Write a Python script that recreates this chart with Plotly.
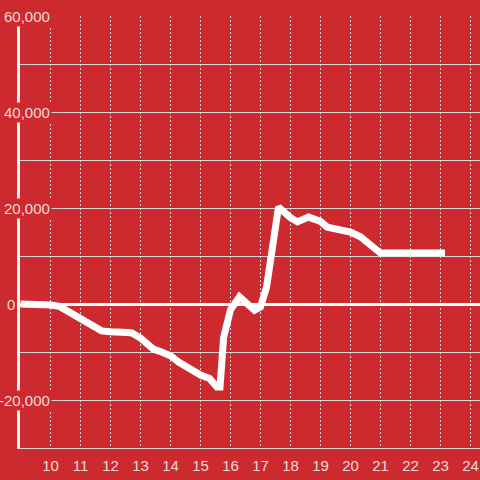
import plotly.graph_objects as go

hours = [9.0, 9.5, 10.0, 10.3, 10.7, 11.0, 11.3, 11.7, 12.0, 12.5, 12.7, 13.0, 13.43, 13.7,
         14.0, 14.27, 14.7, 15.0, 15.3, 15.55, 15.65, 15.77, 16.0, 16.3, 16.8, 17.0, 17.2,
         17.6, 18.0, 18.23, 18.6, 19.0, 19.23, 19.9, 20.0, 20.33, 20.9, 21.0, 22.0, 23.15]
values = [0, -50, -200, -500, -2000, -3000, -4300, -5600, -5800, -5800, -6000, -7100, -9400, -10000,
          -10800, -12100, -13900, -14800, -15500, -17300, -17300, -7000, -1200, 1500, -1300, -600, 3500,
          20200, 18000, 17100, 18100, 17200, 16000, 15400, 15000, 14000, 11000, 10600, 10600, 10600]

x_ticks = list(range(10, 25))
y_tick_vals = [-20000, 0, 20000, 40000, 60000]
y_tick_text = ["-20,000", "0", "20,000", "40,000", "60,000"]

BG = "#cd2a2f"
LABEL = "#f3d8d8"
GRID = "#d8d8d8"
FONT = "Liberation Sans, Arial, sans-serif"

fig = go.Figure()
fig.add_trace(go.Scatter(x=hours, y=values, mode="lines",
                         line=dict(color="white", width=7), hoverinfo="skip"))

# y-axis tick labels drawn as annotations with a background box
for v, t in zip(y_tick_vals, y_tick_text):
    shift = -3 if v == 0 else 32
    fig.add_annotation(x=0, xref="paper", xshift=shift, xanchor="right", y=v, yref="y",
                       text=t, showarrow=False,
                       font=dict(color=LABEL, size=15, family=FONT),
                       bgcolor=BG, borderpad=1)

fig.update_layout(
    width=480, height=480,
    margin=dict(l=20, r=0, t=16, b=32),
    paper_bgcolor=BG, plot_bgcolor=BG,
    showlegend=False,
    font=dict(family=FONT, size=15, color=LABEL),
    xaxis=dict(range=[8.983, 24.316], tickmode="array", tickvals=x_ticks,
               showgrid=True, gridcolor=GRID, gridwidth=1, griddash="2px,2px",
               zeroline=False, showline=True, linecolor=GRID, linewidth=1,
               ticks="outside", ticklen=4, tickcolor="rgba(0,0,0,0)",
               tickfont=dict(color=LABEL, size=15, family=FONT)),
    yaxis=dict(range=[-30000, 60000], dtick=10000, showgrid=True, gridcolor=GRID,
               gridwidth=1, zeroline=True, zerolinecolor="white", zerolinewidth=3,
               showline=True, linecolor="#f2f2f2", linewidth=3,
               showticklabels=False),
)

fig.write_html("out.html", config={"displayModeBar": False},
               post_script="document.body.style.margin='0';document.body.style.overflow='hidden';")
